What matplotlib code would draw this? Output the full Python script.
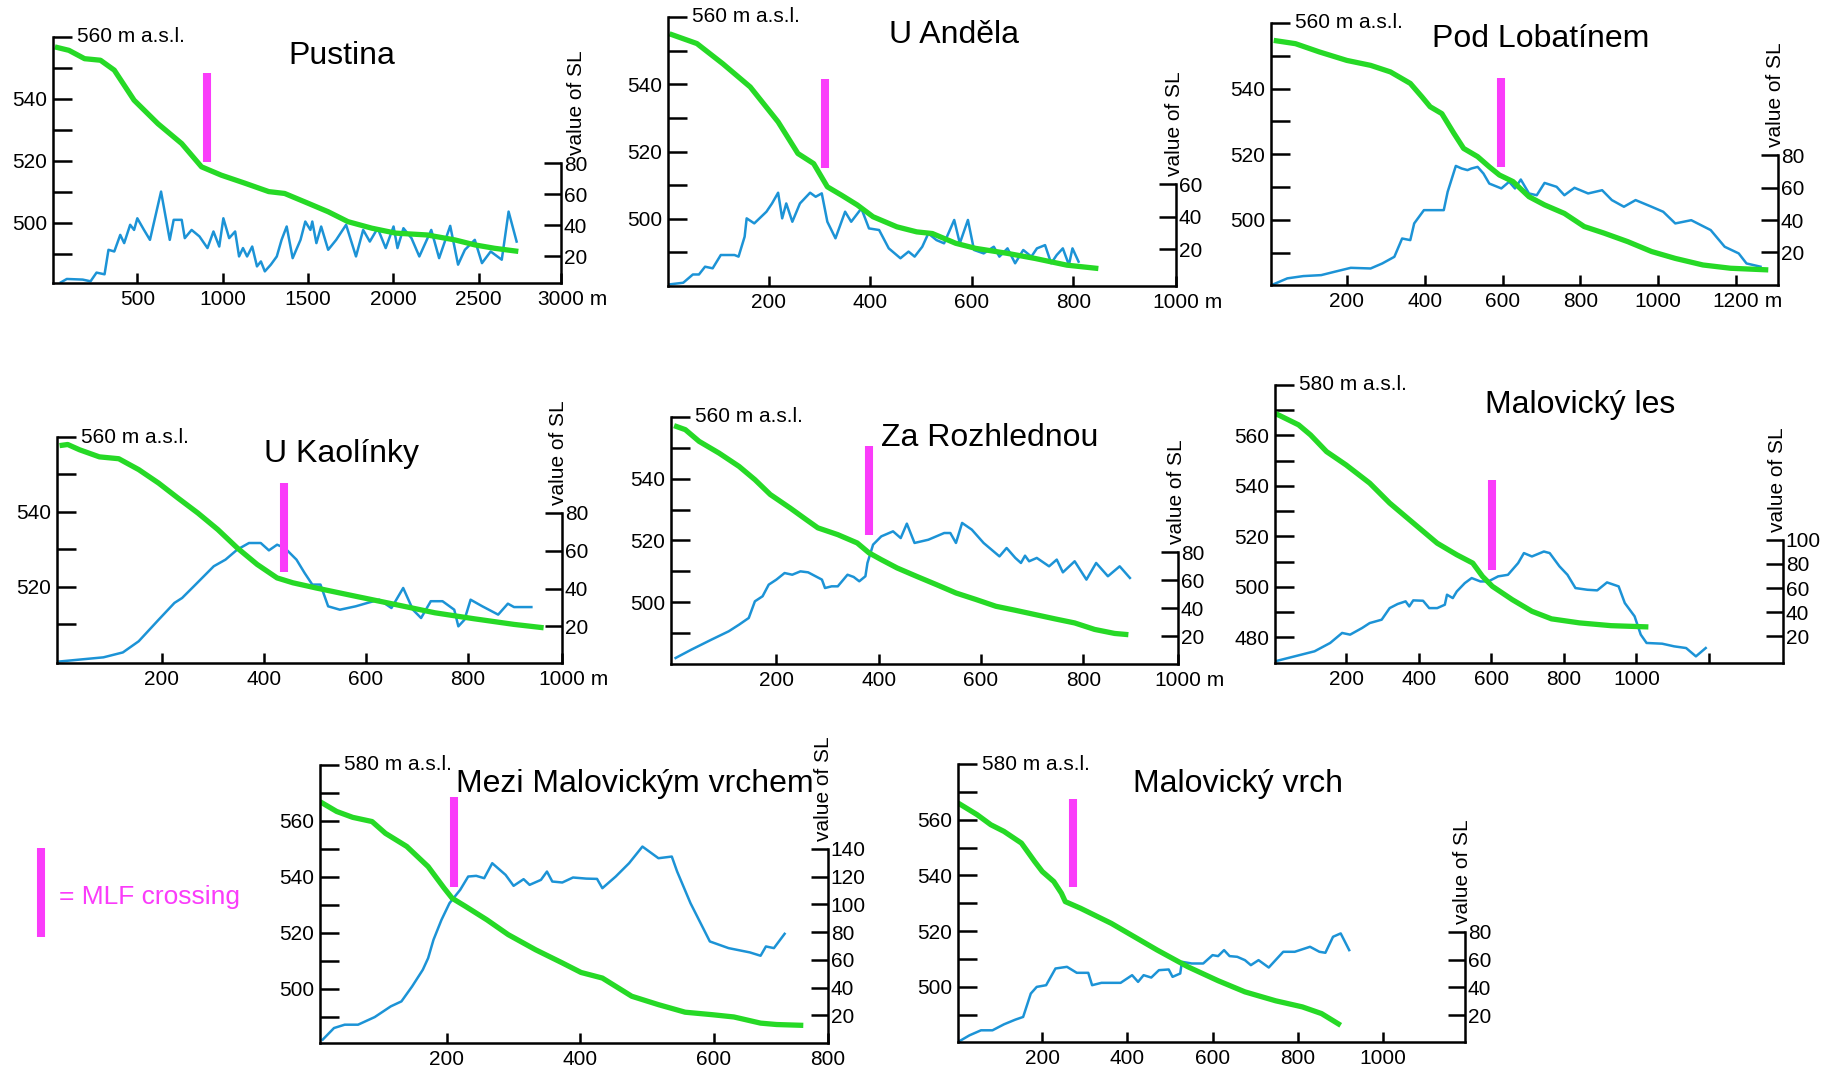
import matplotlib
matplotlib.use("Agg")
import matplotlib.pyplot as plt
from matplotlib.lines import Line2D

W, H = 1836, 1072
plt.rcParams['font.family'] = ['Liberation Sans', 'DejaVu Sans']

GREEN = '#26d926'
BLUE = '#1c93d6'
MAGENTA = '#fa3cfa'

titles = ["Pustina", "U Anděla", "Pod Lobatínem", "U Kaolínky", "Za Rozhlednou",
          "Malovický les", "Mezi Malovickým vrchem", "Malovický vrch"]

# MLF crossing: distance (m) and elevation span of the marker
mlf_x = [909, 311, 597, 439, 381, 603, 210, 272]
mlf_low = [519.6, 515.2, 516.0, 524.0, 521.8, 506.8, 536.6, 535.7]
mlf_high = [548.4, 541.7, 543.1, 547.7, 550.7, 542.4, 568.7, 567.4]

# --- Pustina
pustina_xe = [17, 99, 191, 284, 365, 481, 621, 760, 876, 992, 1131, 1270, 1363, 1502,
              1618, 1734, 1873, 2013, 2198, 2361, 2477, 2593, 2732]
pustina_elev = [556.8, 555.7, 553.0, 552.5, 549.3, 539.6, 532.0, 525.6, 518.1, 515.4, 512.8,
                510.1, 509.5, 506.3, 503.6, 500.4, 498.3, 496.7, 496.1, 494.5, 492.9, 491.8, 490.8]
pustina_xs = [52, 87, 180, 226, 261, 308, 331, 365, 400, 423, 458, 481, 500, 539, 574, 639, 690,
              713, 760, 778, 818, 864, 911, 946, 980, 1004, 1038, 1073, 1096, 1119, 1143, 1173,
              1201, 1224, 1247, 1282, 1317, 1345, 1375, 1410, 1456, 1484, 1514, 1525, 1549, 1577,
              1618, 1665, 1723, 1781, 1823, 1862, 1908, 1955, 2001, 2024, 2059, 2106, 2152, 2222,
              2268, 2333, 2379, 2419, 2477, 2519, 2570, 2635, 2675, 2722]
pustina_sl = [3.3, 5.5, 5.1, 4.0, 9.6, 8.5, 24.3, 23.2, 33.9, 28.6, 40.4, 37.1, 44.6, 37.1, 30.7,
              61.8, 30.7, 43.6, 43.6, 31.8, 37.1, 32.9, 25.4, 36.1, 26.4, 44.6, 31.8, 36.1, 20.0,
              25.4, 20.0, 26.4, 13.6, 16.8, 10.4, 14.7, 20.0, 30.7, 39.3, 18.9, 30.7, 42.5, 37.1,
              42.5, 28.6, 39.3, 24.3, 30.7, 40.4, 20.0, 37.1, 29.6, 38.2, 25.4, 39.3, 25.4, 38.2,
              31.8, 20.0, 37.1, 18.9, 39.7, 14.7, 24.3, 30.7, 15.7, 23.2, 17.9, 48.9, 29.6]

# --- U Anděla
andela_xe = [4, 58, 109, 163, 218, 257, 288, 315, 343, 374, 405, 452, 491, 522, 568, 607,
             670, 724, 787, 849]
andela_elev = [555.0, 552.1, 546.1, 539.2, 528.8, 519.4, 516.4, 509.5, 507.0, 504.1, 500.6,
               497.6, 496.1, 495.6, 492.7, 491.2, 489.7, 488.2, 486.2, 485.2]
andela_xs = [4, 31, 50, 62, 74, 89, 105, 117, 132, 140, 152, 156, 171, 195, 206, 218, 226, 234,
             246, 261, 281, 292, 304, 315, 331, 350, 362, 382, 397, 417, 436, 459, 475, 487, 502,
             514, 530, 545, 565, 576, 592, 604, 623, 643, 654, 670, 685, 701, 717, 728, 744, 756,
             767, 779, 791, 798, 810]
andela_sl = [-1.6, -0.6, 4.5, 4.5, 9.3, 8.3, 16.5, 16.5, 16.5, 15.5, 27.8, 39.1, 36.0, 43.2,
             48.3, 54.9, 39.1, 48.3, 37.0, 48.3, 54.9, 52.4, 54.5, 37.0, 26.8, 43.2, 37.0, 45.2,
             32.9, 31.9, 20.6, 14.5, 18.6, 15.5, 21.6, 29.8, 25.7, 23.7, 38.1, 23.7, 38.1, 19.6,
             17.5, 21.6, 15.5, 20.6, 11.4, 19.6, 15.5, 20.6, 22.6, 11.4, 16.5, 20.6, 10.4, 20.6, 12.4]

# --- Pod Lobatínem
lobatin_xe = [12, 68, 129, 200, 261, 312, 363, 393, 414, 444, 475, 500, 536, 566, 592, 627,
              668, 708, 759, 810, 861, 922, 983, 1044, 1115, 1186, 1283]
lobatin_elev = [554.7, 553.7, 551.2, 548.6, 547.1, 545.1, 541.6, 537.5, 534.5, 532.4, 526.4,
                521.8, 519.3, 516.2, 513.7, 511.7, 507.1, 504.6, 502.0, 498.0, 496.0, 493.4,
                490.4, 488.3, 486.3, 485.3, 484.8]
lobatin_xs = [7, 47, 88, 134, 169, 210, 261, 291, 322, 342, 363, 373, 398, 418, 449, 459, 480,
              495, 510, 520, 536, 551, 566, 597, 617, 632, 647, 668, 688, 708, 739, 759, 785, 820,
              856, 881, 912, 942, 983, 1013, 1044, 1085, 1135, 1171, 1207, 1227, 1263]
lobatin_sl = [-0.1, 4.0, 5.4, 6.0, 8.1, 10.5, 10.1, 13.2, 17.3, 28.6, 27.6, 37.9, 46.1, 46.1,
              46.1, 57.4, 73.4, 71.8, 70.8, 71.8, 72.8, 68.7, 62.5, 59.5, 63.6, 59.5, 65.0, 56.4,
              55.3, 62.9, 60.5, 55.3, 59.9, 56.4, 58.4, 52.3, 48.2, 52.3, 48.2, 45.1, 37.9, 39.9,
              33.8, 23.5, 19.4, 13.2, 11.2]

# --- U Kaolínky
kaolinka_xe = [0, 16, 39, 78, 116, 155, 194, 232, 271, 310, 348, 387, 426, 457, 503, 580, 658,
               735, 812, 890, 948]
kaolinka_elev = [557.7, 558.0, 556.6, 554.7, 554.2, 551.3, 547.7, 543.7, 539.7, 535.3, 530.4,
                 526.0, 522.4, 521.1, 519.7, 517.5, 515.3, 513.1, 511.5, 510.0, 509.1]
kaolinka_xs = [0, 39, 86, 124, 155, 194, 225, 240, 263, 302, 325, 348, 371, 394, 410, 426, 441,
               464, 480, 495, 511, 526, 549, 580, 603, 626, 650, 673, 692, 708, 727, 750, 773, 781,
               793, 805, 828, 859, 878, 890, 924]
kaolinka_sl = [1.4, 2.4, 3.6, 6.2, 12.1, 23.5, 32.4, 35.0, 41.2, 51.8, 55.3, 60.6, 64.1, 64.1,
               60.2, 63.2, 61.5, 55.3, 48.2, 42.1, 42.1, 30.6, 28.8, 30.6, 32.4, 34.1, 29.7, 40.3,
               28.8, 24.4, 33.3, 33.3, 28.8, 20.0, 23.5, 34.1, 30.6, 26.2, 32.0, 30.2, 30.2]

# --- Za Rozhlednou
rozhledna_xe = [0, 22, 49, 88, 127, 158, 188, 227, 258, 281, 320, 358, 381, 405, 436, 474, 513,
                551, 590, 629, 667, 706, 745, 783, 822, 861, 888]
rozhledna_elev = [557.2, 555.9, 552.1, 548.3, 544.0, 539.7, 534.9, 530.5, 526.8, 524.1, 521.9,
                  519.2, 516.0, 513.8, 511.1, 508.4, 505.7, 503.0, 500.9, 498.7, 497.4, 496.0,
                  494.6, 493.3, 491.2, 489.9, 489.5]
rozhledna_xs = [3, 34, 73, 107, 127, 146, 158, 173, 185, 200, 216, 231, 247, 262, 289, 295, 308,
                320, 339, 351, 362, 374, 378, 389, 405, 428, 443, 455, 470, 497, 528, 540, 551,
                563, 582, 605, 636, 650, 667, 678, 686, 694, 709, 733, 748, 760, 783, 806, 825,
                848, 871, 891]
rozhledna_sl = [4.5, 10.5, 17.6, 23.6, 28.3, 33.1, 45.0, 48.6, 56.9, 60.5, 65.2, 64.0, 66.4,
                65.7, 60.5, 54.5, 55.7, 55.7, 64.0, 62.4, 59.3, 62.9, 72.4, 85.5, 91.4, 95.0,
                90.2, 100.5, 86.7, 89.0, 93.8, 93.8, 86.7, 101.0, 96.2, 86.7, 77.1, 83.1, 76.0,
                72.4, 77.6, 73.6, 76.0, 70.0, 74.8, 65.7, 73.6, 60.5, 72.4, 62.9, 70.0, 61.7]

# --- Malovický les
les_xe = [4, 69, 102, 146, 200, 265, 320, 385, 451, 505, 549, 576, 603, 658, 712, 766, 843,
          930, 1033]
les_elev = [568.8, 564.2, 560.2, 553.6, 548.3, 541.1, 533.2, 525.3, 517.3, 512.7, 509.4, 504.1,
            500.2, 494.9, 490.3, 487.3, 485.7, 484.6, 484.1]
les_xs = [4, 58, 113, 156, 189, 211, 244, 265, 298, 320, 342, 364, 374, 385, 412, 429, 451, 472,
          478, 494, 505, 527, 546, 570, 592, 619, 646, 674, 690, 712, 745, 761, 788, 810, 832,
          865, 892, 919, 951, 968, 995, 1012, 1028, 1071, 1104, 1137, 1164, 1191]
les_sl = [-0.7, 3.4, 7.6, 14.5, 22.8, 21.4, 26.9, 31.0, 33.8, 43.4, 46.8, 49.0, 44.8, 49.8,
          49.5, 43.4, 43.4, 46.2, 54.5, 51.7, 57.2, 64.1, 68.3, 65.5, 65.5, 69.7, 71.0, 80.7,
          89.0, 86.2, 90.3, 89.0, 78.0, 71.0, 60.0, 58.6, 58.1, 64.7, 61.4, 47.6, 36.6, 21.4,
          14.5, 13.9, 11.7, 10.3, 3.4, 10.3]

# --- Mezi Malovickým vrchem
mezi_xe = [10, 35, 59, 88, 108, 140, 172, 196, 208, 228, 260, 292, 333, 373, 401, 433, 477,
           517, 557, 598, 630, 670, 694, 734]
mezi_elev = [566.9, 563.4, 561.3, 559.8, 555.6, 550.9, 543.7, 536.0, 532.4, 529.5, 524.7,
             519.4, 514.0, 509.3, 505.9, 503.9, 497.4, 494.4, 491.7, 490.8, 490.0, 487.8, 487.3,
             487.0]
mezi_xs = [14, 31, 47, 67, 92, 116, 132, 148, 164, 172, 180, 192, 204, 220, 232, 244, 256, 268,
           288, 300, 315, 324, 341, 350, 358, 373, 389, 409, 425, 433, 453, 473, 493, 517, 537,
           545, 565, 594, 622, 654, 670, 678, 690, 706]
mezi_sl = [2.5, 10.9, 13.3, 13.3, 18.8, 26.5, 30.1, 40.9, 52.9, 61.3, 74.5, 88.9, 100.9, 110.5,
           120.1, 120.6, 118.9, 129.7, 121.3, 113.4, 118.2, 114.1, 117.7, 123.7, 116.5, 115.8,
           119.4, 118.6, 118.4, 111.7, 120.1, 129.7, 141.7, 133.3, 134.5, 123.7, 100.9, 73.3,
           68.5, 65.4, 63.0, 69.7, 68.5, 78.8]

# --- Malovický vrch
vrch_xe = [2, 47, 79, 110, 151, 182, 200, 227, 245, 254, 290, 362, 416, 470, 542, 613, 676,
           748, 811, 856, 901]
vrch_elev = [566.0, 561.8, 558.2, 555.8, 551.6, 545.0, 541.4, 537.8, 533.6, 530.6, 528.2, 522.8,
             518.0, 513.2, 507.2, 502.2, 498.2, 495.0, 492.8, 490.4, 486.2]
vrch_xs = [2, 29, 56, 83, 110, 137, 155, 173, 187, 209, 231, 258, 281, 308, 317, 339, 384, 411,
           425, 438, 456, 474, 497, 506, 524, 528, 551, 578, 600, 613, 627, 640, 658, 676, 690,
           708, 732, 766, 793, 829, 851, 865, 883, 901, 921]
vrch_sl = [0.8, 5.6, 9.2, 9.2, 13.5, 16.9, 18.8, 35.6, 40.4, 41.6, 53.6, 54.8, 50.5, 50.5, 41.6,
           43.3, 43.3, 48.8, 44.0, 48.8, 47.1, 52.4, 52.9, 47.6, 50.0, 58.4, 57.2, 57.2, 63.2,
           62.5, 66.8, 62.5, 62.0, 59.6, 56.0, 59.6, 54.3, 65.6, 65.6, 69.2, 65.6, 64.9, 76.4,
           78.8, 66.8]

# axis ticks per panel
x_ticks = [[500, 1000, 1500, 2000, 2500, 2982], [200, 400, 600, 800, 1002],
           [200, 400, 600, 800, 1000, 1200], [200, 400, 600, 800, 984],
           [200, 400, 600, 800, 985], [200, 400, 600, 800, 1000, 1200],
           [200, 400, 600, 771], [200, 400, 600, 800, 1000]]
x_labels = [["500", "1000", "1500", "2000", "2500", "3000"], ["200", "400", "600", "800", "1000"],
            ["200", "400", "600", "800", "1000", "1200"], ["200", "400", "600", "800", "1000"],
            ["200", "400", "600", "800", "1000"], ["200", "400", "600", "800", "1000", ""],
            ["200", "400", "600", "800"], ["200", "400", "600", "800", "1000"]]
unit_m = [True, True, True, True, True, False, False, False]
elev_top = [560, 560, 560, 560, 560, 580, 580, 580]
sl_top = [80, 60, 80, 80, 80, 100, 140, 80]

panels = [
    (pustina_xe, pustina_elev, pustina_xs, pustina_sl),
    (andela_xe, andela_elev, andela_xs, andela_sl),
    (lobatin_xe, lobatin_elev, lobatin_xs, lobatin_sl),
    (kaolinka_xe, kaolinka_elev, kaolinka_xs, kaolinka_sl),
    (rozhledna_xe, rozhledna_elev, rozhledna_xs, rozhledna_sl),
    (les_xe, les_elev, les_xs, les_sl),
    (mezi_xe, mezi_elev, mezi_xs, mezi_sl),
    (vrch_xe, vrch_elev, vrch_xs, vrch_sl),
]

# layout in pixels: left, right, top, bottom; axis ranges; title baseline; SL-label shift
layout = [
    dict(box=(53, 561, 37, 283), xlim=(6, 2982), ylim=(480.6, 560), slim=(2.9, 161.4),
         title=(342, 64), sl_dx=15),
    dict(box=(668, 1176, 17, 286), xlim=(1, 1002), ylim=(480, 560), slim=(-2.6, 163.2),
         title=(954, 43), sl_dx=-2),
    dict(box=(1271, 1778, 23, 285), xlim=(5, 1308), ylim=(480.2, 560), slim=(-0.1, 161.6),
         title=(1541, 47), sl_dx=-3),
    dict(box=(57, 562, 437, 663), xlim=(-5, 984), ylim=(499.7, 560), slim=(0.6, 120.2),
         title=(342, 462), sl_dx=-3),
    dict(box=(671, 1178, 417, 664), xlim=(-6, 985), ylim=(480, 560), slim=(0.2, 176.7),
         title=(990, 446), sl_dx=-2),
    dict(box=(1275, 1783, 385, 663), xlim=(4, 1404), ylim=(469.8, 580), slim=(-2.1, 228.3),
         title=(1580, 413), sl_dx=-6),
    dict(box=(320, 828, 765, 1043), xlim=(10, 771), ylim=(480.7, 580), slim=(0.1, 200.5),
         title=(635, 792), sl_dx=-5),
    dict(box=(958, 1465, 764, 1042), xlim=(2, 1193), ylim=(480.2, 580), slim=(0.8, 200.5),
         title=(1238, 792), sl_dx=-2),
]

FS = 15
fig = plt.figure(figsize=(W / 100, H / 100), dpi=100)

for i, (xe, elev, xs, sl) in enumerate(panels):
    lay = layout[i]
    l, r, t, b = lay['box']
    ax = fig.add_axes([l / W, 1 - b / H, (r - l) / W, (b - t) / H])
    ax2 = ax.twinx()
    ax.set_zorder(ax2.get_zorder() + 1)
    ax.patch.set_visible(False)

    ax.set_xlim(*lay['xlim'])
    ax.set_ylim(*lay['ylim'])
    ax2.set_ylim(*lay['slim'])

    ax2.plot(xs, sl, color=BLUE, lw=1.8, solid_joinstyle='round')
    ax.plot(xe, elev, color=GREEN, lw=3.8, solid_capstyle='butt', solid_joinstyle='round')
    ax.plot([mlf_x[i], mlf_x[i]], [mlf_low[i], mlf_high[i]], color=MAGENTA, lw=5.8,
            solid_capstyle='butt')

    for s in ['top', 'right']:
        ax.spines[s].set_visible(False)
    for s in ['top', 'left', 'bottom']:
        ax2.spines[s].set_visible(False)
    for s in ['left', 'bottom']:
        ax.spines[s].set_linewidth(1.8)
    ax2.spines['right'].set_linewidth(1.8)
    ax2.spines['right'].set_bounds(lay['slim'][0], sl_top[i])

    # elevation ticks every 10 m, labelled every 20 m, top one labelled separately
    top = elev_top[i]
    yt = [v for v in range(top, int(lay['ylim'][0]), -10) if v > lay['ylim'][0] + 1]
    ax.set_yticks(yt)
    ax.set_yticklabels([str(v) if (v % 20 == 0 and v != top) else "" for v in yt])
    ax.tick_params(axis='y', direction='in', length=14, width=1.8, labelsize=FS, pad=4)
    ax.annotate(f"{top} m a.s.l.", xy=(0, top), xycoords=('axes fraction', 'data'),
                xytext=(17, 0), textcoords='offset points', ha='left', va='center', fontsize=FS)

    ax.set_xticks(x_ticks[i])
    ax.set_xticklabels(x_labels[i])
    ax.tick_params(axis='x', direction='in', length=7, width=1.8, labelsize=FS, pad=5)
    if unit_m[i]:
        half = len(x_labels[i][-1]) * 0.556 * FS / 2
        ax.annotate(" m", xy=(x_ticks[i][-1], 0), xycoords=('data', 'axes fraction'),
                    xytext=(half, -5), textcoords='offset points', ha='left', va='top',
                    fontsize=FS)

    st = list(range(20, sl_top[i] + 1, 20))
    ax2.set_yticks(st)
    ax2.set_yticklabels([str(v) for v in st])
    ax2.tick_params(axis='y', direction='in', length=12, width=1.8, labelsize=FS, pad=2)
    ax2.annotate("value of SL", xy=(1, sl_top[i]), xycoords=('axes fraction', 'data'),
                 xytext=(lay['sl_dx'], 8), textcoords='offset pixels', rotation=90,
                 ha='center', va='bottom', fontsize=FS)

    tx, ty = lay['title']
    fig.text(tx / W, 1 - ty / H, titles[i], ha='center', va='baseline', fontsize=23)

# legend for the MLF marker
fig.add_artist(Line2D([41 / W, 41 / W], [1 - 848 / H, 1 - 937 / H], color=MAGENTA, lw=5.8,
                      solid_capstyle='butt'))
fig.text(59 / W, 1 - 897 / H, "= MLF crossing", color=MAGENTA, fontsize=19,
         ha='left', va='center')

fig.savefig("out.png", dpi=100)
